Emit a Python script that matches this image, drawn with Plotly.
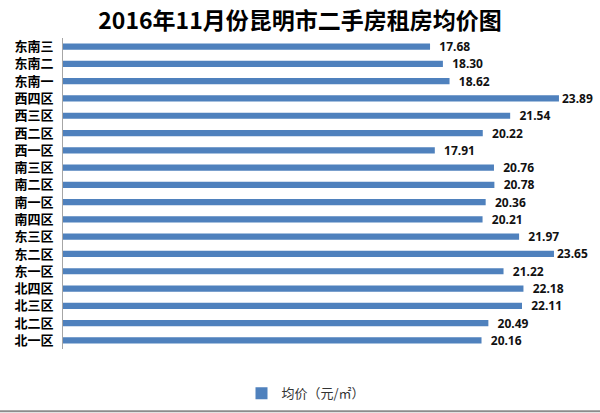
import plotly.graph_objects as go

categories = ["东南三", "东南二", "东南一", "西四区", "西三区", "西二区", "西一区",
              "南三区", "南二区", "南一区", "南四区", "东三区", "东二区", "东一区",
              "北四区", "北三区", "北二区", "北一区"]
values = [17.68, 18.30, 18.62, 23.89, 21.54, 20.22, 17.91,
          20.76, 20.78, 20.36, 20.21, 21.97, 23.65, 21.22,
          22.18, 22.11, 20.49, 20.16]
series_name = "均价（元/㎡）"
title_text = "2016年11月份昆明市二手房租房均价图"

# labels near the right edge sit closer to their bar (as in the original)
labels = [("" if v > 23 else "  ") + f"{v:.2f}" for v in values]

fig = go.Figure()
fig.add_trace(go.Bar(
    x=values, y=categories, orientation="h", name=series_name,
    marker=dict(color="#4F81BD", line=dict(width=0)),
    text=labels,
    textposition="outside", cliponaxis=False, constraintext="none",
    textfont=dict(family="Noto Sans, DejaVu Sans", size=12, color="#111111", weight="bold"),
))

fig.update_layout(
    width=600, height=413,
    paper_bgcolor="white", plot_bgcolor="white",
    margin=dict(l=63, r=18, t=38, b=64),
    title=dict(text=title_text, x=0.5, xref="container", xanchor="center",
               y=0.95, yanchor="middle",
               font=dict(family="Noto Sans CJK SC", size=23, color="#000000", weight="bold")),
    bargap=0.64,
    showlegend=True,
    legend=dict(orientation="h", xref="container", yref="container",
                x=0.51, xanchor="center", y=0.048, yanchor="middle",
                itemwidth=30,
                font=dict(family="Noto Sans CJK SC", size=13, color="#333333")),
    xaxis=dict(range=[0, 25], visible=False, showgrid=False, zeroline=False),
    yaxis=dict(autorange="reversed", showline=True, linecolor="#A6A6A6", linewidth=1,
               ticks="", showgrid=False, ticklabelstandoff=6,
               tickfont=dict(family="Noto Sans CJK SC", size=13, color="#000000", weight="bold")),
)
fig.add_shape(type="line", xref="paper", yref="paper", x0=-0.2, x1=1.1, y0=-0.2, y1=-0.2,
              line=dict(color="#8C8C8C", width=2))

fig.write_html("out.html", config={"displayModeBar": False},
               post_script="document.body.style.margin='0';document.body.style.overflow='hidden';")
